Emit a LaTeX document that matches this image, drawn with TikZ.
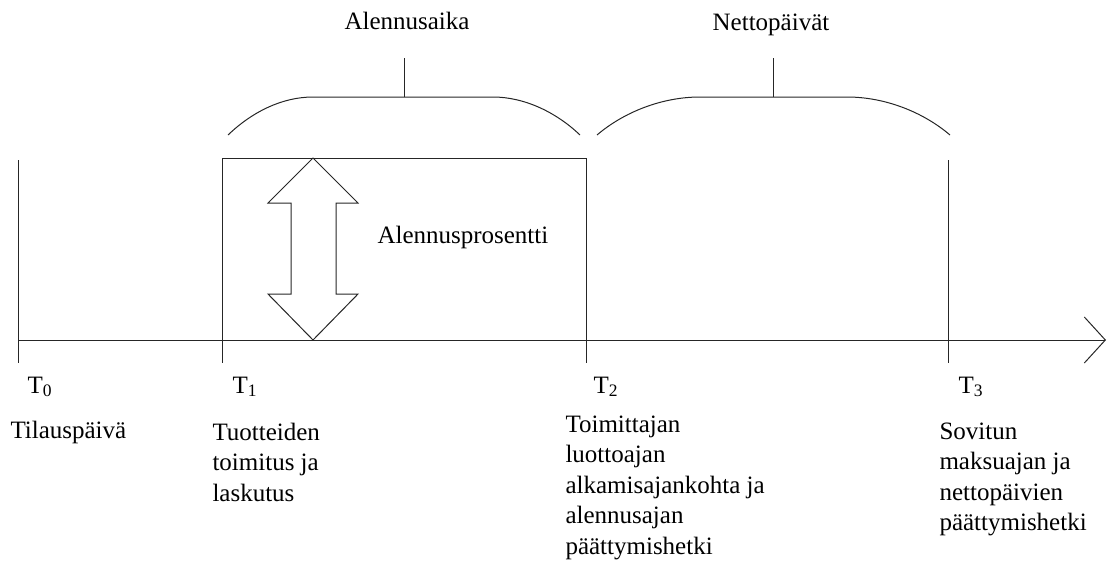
\documentclass[tikz,border=0pt]{standalone}
\usepackage{fontspec}
\setmainfont{Liberation Serif}
\usepackage{tikz}
\usetikzlibrary{arrows.meta,positioning}

\begin{document}
\begin{tikzpicture}[x=1pt,y=-1pt,line width=1pt,draw=black!85,
	lbl/.style={inner sep=0pt,font=\fontsize{25}{30.5}\selectfont,align=left,anchor=base west}]
	\useasboundingbox (0,0) rectangle (1108,560);
	% aika-akseli
	\coordinate (t0) at (18,340);
	\coordinate (t1) at (222.7,340);
	\coordinate (t2) at (586.7,340);
	\coordinate (t3) at (948,340);
	\coordinate (akseli) at (1106,340);
	\draw[-{Straight Barb[length=21pt,width=46pt]}] (t0) -- (akseli);
	\draw (18,160) -- (18,363);
	\draw (948,160) -- (948,363);
	\draw (222.7,340) -- (222.7,363);
	\draw (586.7,340) -- (586.7,363);
	% alennusaika
	\draw (222.7,158) rectangle (586.7,340);
	\draw (313,158) -- (358,203) -- (336,203) -- (336,294) -- (358,294) -- (313,340)
		-- (268,294) -- (291,294) -- (291,203) -- (268,203) -- cycle;
	\node[lbl] (prosentti) at (377,243) {Alennusprosentti};
	% aaltosulut
	\draw (228,135) .. controls (252,112) and (282,97) .. (313,97) -- (493,97)
		.. controls (524,97) and (556,112) .. (580,135);
	\draw (404,97) -- (404,58);
	\draw (597,135) .. controls (624,112) and (662,97) .. (700,97) -- (847,97)
		.. controls (885,97) and (923,112) .. (950,135);
	\draw (773,97) -- (773,58);
	\node[lbl,anchor=base] (alennus) at (407,29) {Alennusaika};
	\node[lbl,anchor=base] (netto) at (771,30) {Nettopäivät};
	% hetket (monirivisissa base = viimeinen rivi)
	\node[lbl] (T0) at (27,393) {T\textsubscript{0}};
	\node[lbl] (T1) at (232,393) {T\textsubscript{1}};
	\node[lbl] (T2) at (593,393) {T\textsubscript{2}};
	\node[lbl] (T3) at (958,393) {T\textsubscript{3}};
	\node[lbl] (tilaus) at (10,438) {Tilauspäivä};
	\node[lbl] (toimitus) at (212,501) {Tuotteiden\\toimitus ja\\laskutus};
	\node[lbl] (luotto) at (565,554) {Toimittajan\\luottoajan\\alkamisajankohta ja\\alennusajan\\päättymishetki};
	\node[lbl] (maksu) at (939,530.5) {Sovitun\\maksuajan ja\\nettopäivien\\päättymishetki};
\end{tikzpicture}
\end{document}
